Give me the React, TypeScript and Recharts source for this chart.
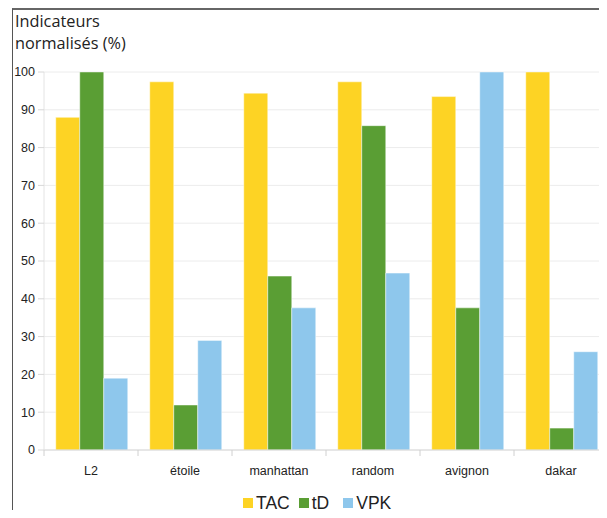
import { Bar, BarChart, CartesianGrid, XAxis, YAxis } from "recharts";

const categories = ["L2", "étoile", "manhattan", "random", "avignon", "dakar"];
const tac = [88, 97.4, 94.4, 97.4, 93.5, 100];
const tD = [100, 11.9, 46, 85.8, 37.6, 5.8];
const vpk = [19, 29, 37.6, 46.8, 100, 26];
const yTicks = [0, 10, 20, 30, 40, 50, 60, 70, 80, 90, 100];

const series = [
  { key: "TAC", values: tac, color: "#FDD324" },
  { key: "tD", values: tD, color: "#5A9E34" },
  { key: "VPK", values: vpk, color: "#8EC7EC" },
];

const data = categories.map((name, i) => ({
  name,
  TAC: tac[i],
  tD: tD[i],
  VPK: vpk[i],
}));

const font = "'Liberation Sans', Arial, sans-serif";

const CategoryTick = (props: any) => {
  const { x, y, payload, width } = props;
  const bw = width / categories.length;
  return (
    <g>
      <line x1={x - bw / 2} x2={x - bw / 2} y1={y} y2={y + 6} stroke="#d0d0d0" />
      <text
        x={x}
        y={y + 25}
        textAnchor="middle"
        fontSize={12.5}
        fontFamily={font}
        fill="#222"
      >
        {payload.value}
      </text>
    </g>
  );
};

// legend drawn as plain html so it does not shrink the plot
const ChartLegend = () => (
  <div
    style={{
      position: "absolute",
      top: 493,
      left: 243,
      display: "flex",
      alignItems: "center",
      fontFamily: font,
      fontSize: 17.5,
      lineHeight: "20px",
      color: "#222",
    }}
  >
    {series.map((s, i) => (
      <div
        key={s.key}
        style={{ display: "flex", alignItems: "center", marginRight: i === 1 ? 14 : 9 }}
      >
        <span
          style={{
            display: "inline-block",
            width: 10,
            height: 10,
            background: s.color,
            marginRight: 3,
          }}
        />
        <span>{s.key}</span>
      </div>
    ))}
  </div>
);

export default function App() {
  return (
    <div
      style={{
        position: "relative",
        width: 607,
        height: 518,
        margin: -8,
        overflow: "hidden",
        background: "#fff",
      }}
    >
      <div
        style={{
          position: "absolute",
          left: 12,
          top: 8,
          width: 620,
          height: 507,
          borderLeft: "1.5px solid #555",
          borderTop: "2px solid #666",
          borderBottom: "1.5px solid #bbb",
        }}
      />
      <div
        style={{
          position: "absolute",
          left: 15,
          top: 10,
          fontFamily: "'Open Sans', sans-serif",
          fontSize: 16.3,
          lineHeight: "22px",
          color: "#222",
        }}
      >
        Indicateurs
        <br />
        normalisés (%)
      </div>
      <div style={{ position: "absolute", left: 0, top: 0 }}>
        <BarChart
          width={620}
          height={518}
          data={data}
          margin={{ top: 72, right: 12, left: 0, bottom: 0 }}
          barCategoryGap="12.5%"
          barGap={0}
        >
          <CartesianGrid stroke="#ececec" vertical={false} />
          <XAxis
            dataKey="name"
            height={68}
            axisLine={{ stroke: "#d8d8d8" }}
            tickLine={false}
            tickSize={0}
            tickMargin={0}
            tick={<CategoryTick />}
            interval={0}
          />
          <YAxis
            domain={[0, 100]}
            ticks={yTicks}
            width={44}
            tickSize={6}
            tickMargin={3}
            axisLine={{ stroke: "#e4e4e4" }}
            tickLine={{ stroke: "#d8d8d8" }}
            tick={{ fontSize: 12.5, fontFamily: font, fill: "#222" }}
          />
          {series.map((s) => (
            <Bar
              key={s.key}
              dataKey={s.key}
              fill={s.color}
              stroke="#ffffff"
              strokeOpacity={0.45}
              strokeWidth={1}
              isAnimationActive={false}
            />
          ))}
        </BarChart>
      </div>
      <ChartLegend />
    </div>
  );
}
